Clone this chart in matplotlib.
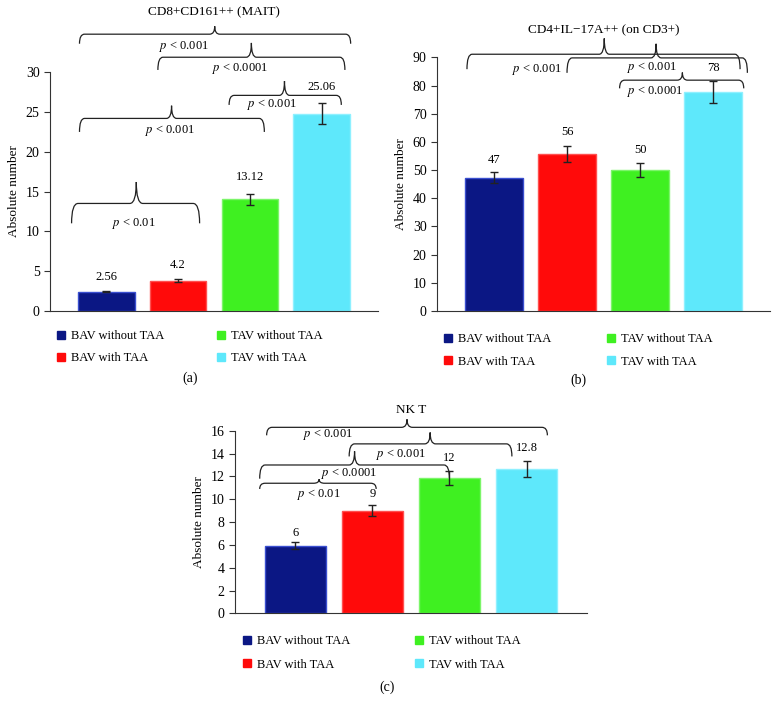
import matplotlib

matplotlib.use("Agg")
import matplotlib.pyplot as plt
from matplotlib.lines import Line2D
from matplotlib.path import Path
from matplotlib.patches import PathPatch

groups = ["BAV without TAA", "BAV with TAA", "TAV without TAA", "TAV with TAA"]
colors = ["#0b1784", "#ff0a0a", "#3ff021", "#5ee8fb"]
edge_colors = ["#3a4fd0", "#ff5050", "#7cf56a", "#8ff0ff"]

# (a) CD8+CD161++ (MAIT)
mait_values = [2.4, 3.8, 14.0, 24.8]
mait_err = [0.1, 0.2, 0.75, 1.3]
mait_labels = ["2.56", "4.2", "13.12", "25.06"]
mait_p = ["p < 0.001", "p < 0.0001", "p < 0.001", "p < 0.001", "p < 0.01"]

# (b) CD4+IL-17A++ (on CD3+)
th17_values = [47.3, 55.8, 50.0, 77.7]
th17_err = [2.0, 2.8, 2.6, 3.9]
th17_labels = ["47", "56", "50", "78"]
th17_p = ["p < 0.001", "p < 0.001", "p < 0.0001"]

# (c) NK T
nkt_values = [5.93, 9.0, 11.85, 12.66]
nkt_err = [0.32, 0.47, 0.63, 0.7]
nkt_labels = ["6", "9", "12", "12.8"]
nkt_p = ["p < 0.001", "p < 0.001", "p < 0.0001", "p < 0.01"]

plt.rcParams["font.family"] = ["Liberation Serif", "DejaVu Serif"]
plt.rcParams["mathtext.fontset"] = "stix"

FS = 9


def brace(ax, x0, x1, y, drop, rise, xp, r=0.07):
    verts = [
        (x0, y - drop), (x0, y), (x0 + r, y),
        (xp - r, y),
        (xp, y), (xp, y + rise),
        (xp, y), (xp + r, y),
        (x1 - r, y),
        (x1, y), (x1, y - drop),
    ]
    codes = [
        Path.MOVETO, Path.CURVE3, Path.CURVE3,
        Path.LINETO,
        Path.CURVE3, Path.CURVE3,
        Path.CURVE3, Path.CURVE3,
        Path.LINETO,
        Path.CURVE3, Path.CURVE3,
    ]
    ax.add_patch(PathPatch(Path(verts, codes), fill=False, lw=0.9,
                           edgecolor="#222222", clip_on=False))


def ptext(ax, x, y, s):
    rest = s[1:]
    ax.text(x, y, "$p$" + rest, ha="center", va="center", fontsize=FS,
            clip_on=False)


def panel(rect, values, err, labels, ymax, ystep, title, title_y, label_y):
    ax = fig.add_axes(rect)
    x = range(len(values))
    ax.bar(x, values, width=0.79, color=colors, edgecolor=edge_colors,
           linewidth=1.0, zorder=2)
    ax.errorbar(x, values, yerr=err, fmt="none", ecolor="#222222",
                elinewidth=1.0, capsize=3, capthick=1.0, zorder=3)
    for xi, lab, ly in zip(x, labels, label_y):
        ax.text(xi, ly, lab, ha="center", va="center", fontsize=FS)
    ax.set_xlim(-0.78, 3.78)
    ax.set_ylim(0, ymax)
    ax.set_yticks(range(0, ymax + 1, ystep))
    ax.set_xticks([])
    for s in ("top", "right"):
        ax.spines[s].set_visible(False)
    ax.spines["left"].set_color("#333333")
    ax.spines["bottom"].set_color("#333333")
    ax.tick_params(axis="y", labelsize=10, length=4, width=0.8,
                   direction="out", color="#333333")
    ax.set_ylabel("Absolute number", fontsize=9.5)
    ax.text(1.5, title_y, title, ha="center", va="center", fontsize=9.5,
            clip_on=False)
    return ax


def legend(ax, anchor, colsp, rowsp=0.77):
    handles = [Line2D([], [], ls="none", marker="s", markersize=5.5,
                      markerfacecolor=c, markeredgecolor=c) for c in colors]
    ax.legend(handles, groups, ncol=2, loc="upper left",
              bbox_to_anchor=anchor, bbox_transform=fig.transFigure,
              frameon=False, fontsize=9, handlelength=0.8,
              handletextpad=0.4, columnspacing=colsp, labelspacing=rowsp,
              borderpad=0)


fig = plt.figure(figsize=(7.8, 7.14), dpi=100)

# (a)
ax = panel([0.0641, 0.5648, 0.4205, 0.3339], mait_values, mait_err,
           mait_labels, 30, 5, "CD8+CD161++ (MAIT)", 37.5,
           [4.2, 5.7, 16.8, 28.1])
brace(ax, -0.37, 3.40, 34.8, 1.2, 1.0, 1.51)
brace(ax, 0.72, 3.32, 31.9, 1.6, 1.8, 2.02)
brace(ax, 1.71, 3.27, 27.1, 1.2, 1.8, 2.48)
brace(ax, -0.37, 2.20, 24.2, 1.7, 1.6, 0.91)
brace(ax, -0.48, 1.30, 13.5, 2.5, 2.7, 0.42, r=0.09)
for (tx, ty), s in zip([(1.08, 33.2), (1.86, 30.5), (2.31, 26.0),
                        (0.89, 22.7), (0.38, 11.0)], mait_p):
    ptext(ax, tx, ty, s)
legend(ax, (0.0641, 0.546), 4.1)
fig.text(0.2436, 0.4706, "(a)", ha="center", va="center", fontsize=10)

# (b)
ax = panel([0.5603, 0.5644, 0.4269, 0.3553], th17_values, th17_err,
           th17_labels, 90, 10, "CD4+IL\u221217A++ (on CD3+)", 99.5,
           [53.7, 63.4, 57.1, 86.3])
brace(ax, -0.37, 3.37, 91.1, 5.3, 5.6, 1.51)
brace(ax, 1.00, 3.47, 89.8, 5.3, 5.0, 2.22)
brace(ax, 1.72, 3.42, 81.9, 2.9, 2.7, 2.58)
for (tx, ty), s in zip([(0.59, 85.8), (2.16, 86.3), (2.21, 77.8)], th17_p):
    ptext(ax, tx, ty, s)
legend(ax, (0.5599, 0.542), 4.36, rowsp=0.82)
fig.text(0.741, 0.468, "(b)", ha="center", va="center", fontsize=10)

# (c)
ax = panel([0.3013, 0.1410, 0.4509, 0.2557], nkt_values, nkt_err,
           nkt_labels, 16, 2, "NK T", 17.8,
           [7.07, 10.44, 13.6, 14.47])
brace(ax, -0.37, 3.27, 16.3, 0.7, 0.7, 1.45)
brace(ax, 0.70, 2.81, 14.85, 1.1, 1.0, 1.75)
brace(ax, -0.46, 2.00, 13.0, 1.2, 1.2, 0.77)
brace(ax, -0.46, 1.05, 11.4, 0.5, 0.35, 0.31)
for (tx, ty), s in zip([(0.42, 15.64), (1.37, 13.95), (0.70, 12.22),
                        (0.31, 10.38)], nkt_p):
    ptext(ax, tx, ty, s)
legend(ax, (0.3026, 0.119), 5.1, rowsp=0.9)
fig.text(0.4957, 0.0375, "(c)", ha="center", va="center", fontsize=10)

fig.savefig("out.png", dpi=100)
